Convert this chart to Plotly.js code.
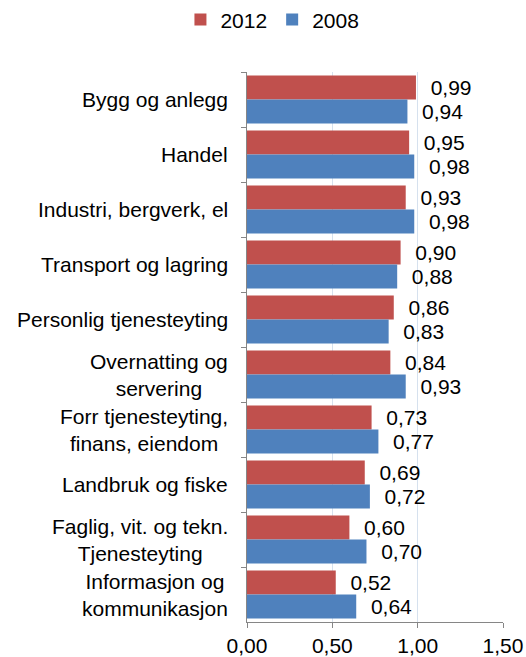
<!DOCTYPE html>
<html>
<head>
<meta charset="utf-8">
<script src="https://cdn.plot.ly/plotly-3.0.1.min.js"></script>
<style>html,body{margin:0;padding:0;background:#fff;}#chart{width:526px;height:657px;}</style>
</head>
<body>
<div id="chart"></div>
<script>
const categories = [
  "Bygg og anlegg",
  "Handel",
  "Industri, bergverk, el",
  "Transport og lagring",
  "Personlig tjenesteyting",
  "Overnatting og<br>servering",
  "Forr tjenesteyting,<br>finans, eiendom",
  "Landbruk og fiske",
  "Faglig, vit. og tekn.<br>Tjenesteyting",
  "Informasjon og<br>kommunikasjon"
];
const values2012 = [0.99, 0.95, 0.93, 0.90, 0.86, 0.84, 0.73, 0.69, 0.60, 0.52];
const values2008 = [0.94, 0.98, 0.98, 0.88, 0.83, 0.93, 0.77, 0.72, 0.70, 0.64];
const seriesNames = ["2012", "2008"];
const xTicks = [0, 0.5, 1.0, 1.5];

const FONT = "Liberation Sans, Arial, sans-serif";
const FS = 21;

function barTrace(name, vals, color) {
  return {
    type: "bar",
    orientation: "h",
    name: name,
    y: categories,
    x: vals,
    marker: {color: color},
    texttemplate: "\u00a0\u00a0%{x:.2f}",
    textposition: "outside",
    textfont: {family: FONT, size: FS, color: "#000"},
    constraintext: "none",
    cliponaxis: false,
    hoverinfo: "skip"
  };
}

const data = [
  barTrace(seriesNames[0], values2012, "#C0504D"),
  barTrace(seriesNames[1], values2008, "#4F81BD")
];

const annotations = categories.map(c => ({
  xref: "paper", yref: "y",
  x: 0, y: c,
  xanchor: "right", yanchor: "middle",
  xshift: -17,
  align: "center",
  text: c,
  showarrow: false,
  font: {family: FONT, size: FS, color: "#000"}
}));

const layout = {
  width: 526, height: 657,
  margin: {l: 247, r: 23, t: 72, b: 35, pad: 0, autoexpand: false},
  paper_bgcolor: "#fff", plot_bgcolor: "#fff",
  separators: ", ",
  font: {family: FONT, size: FS, color: "#000"},
  barmode: "group",
  bargap: 0.127,
  bargroupgap: 0,
  showlegend: true,
  legend: {
    orientation: "h",
    x: -0.26, xanchor: "left",
    y: 1.095, yanchor: "middle",
    font: {family: FONT, size: FS, color: "#000"},
    itemwidth: 30,
    tracegroupgap: 0
  },
  xaxis: {
    range: [0, 1.5],
    tickvals: xTicks,
    tickformat: ".2f",
    showgrid: true,
    gridcolor: "#D6E1EE",
    gridwidth: 1,
    zeroline: false,
    showline: true,
    linecolor: "#868686",
    linewidth: 1,
    ticks: "outside",
    ticklen: 5,
    tickcolor: "#868686",
    tickfont: {family: FONT, size: FS, color: "#000"},
    fixedrange: true
  },
  yaxis: {
    type: "category",
    autorange: "reversed",
    showticklabels: false,
    showgrid: false,
    zeroline: false,
    showline: true,
    linecolor: "#868686",
    linewidth: 1,
    ticks: "outside",
    tickson: "boundaries",
    ticklen: 5,
    tickcolor: "#868686",
    fixedrange: true
  },
  annotations: annotations
};

Plotly.newPlot("chart", data, layout, {displayModeBar: false, staticPlot: true});
</script>
</body>
</html>
